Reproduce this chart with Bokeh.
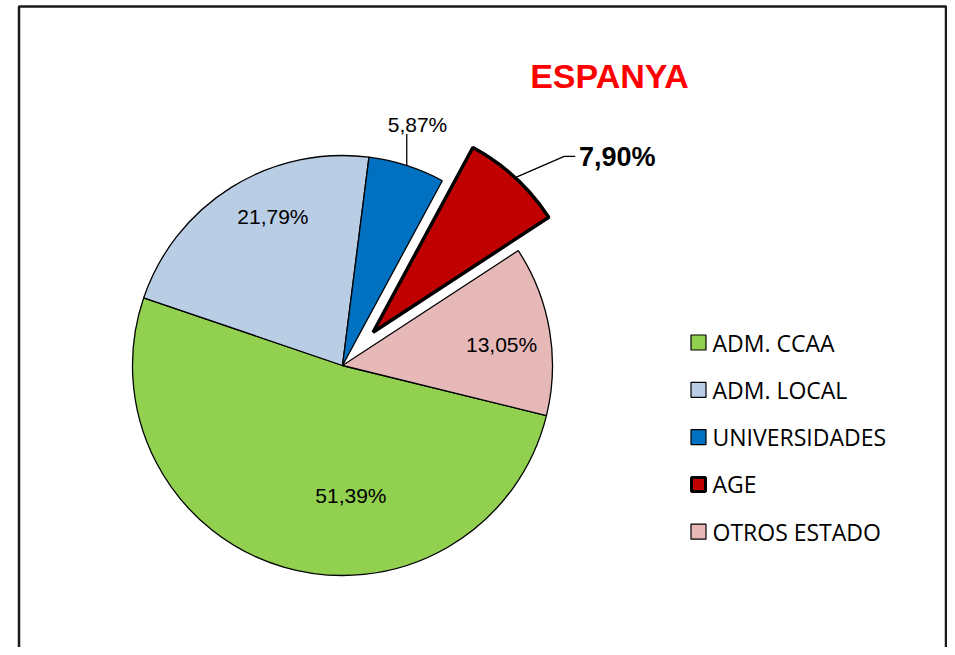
import math
from bokeh.plotting import figure
from bokeh.models import Range1d, ColumnDataSource
from bokeh.core.properties import value
from bokeh.embed import file_html
from bokeh.resources import INLINE

# ---- data ----
categories = ["ADM. CCAA", "ADM. LOCAL", "UNIVERSIDADES", "AGE", "OTROS ESTADO"]
shares = [51.39, 21.79, 5.87, 7.90, 13.05]
labels = ["51,39%", "21,79%", "5,87%", "7,90%", "13,05%"]
colors = ["#92D050", "#B9CDE5", "#0070C0", "#C00000", "#E6B9B8"]
title_text = "ESPANYA"

# ---- layout (image pixel coordinates -> data) ----
W, H = 947, 647
def Y(img_y):
    return H - img_y

cx, cy, R = 342, Y(365), 210
first_angle = math.radians(-13.8)      # where the first slice begins (clockwise)
explode = [0, 0, 0, 0.215, 0]
line_w = [1.3, 1.3, 1.3, 3.5, 1.3]
# label placement: (radius fraction, angle offset deg) relative to slice middle
label_pos = [(0.62, 20.0), (0.785, -7.0), (1.2, 0.5), (1.43, -11.8), (0.764, -2.3)]
label_size = ["21px", "21px", "21px", "27px", "21px"]
label_style = ["normal", "normal", "normal", "bold", "normal"]

total = sum(shares)
starts, ends, mids, xs, ys = [], [], [], [], []
cum = 0.0
for i, s in enumerate(shares):
    a0 = first_angle - 2 * math.pi * cum / total
    cum += s
    a1 = first_angle - 2 * math.pi * cum / total
    m = (a0 + a1) / 2
    starts.append(a0); ends.append(a1); mids.append(m)
    xs.append(cx + explode[i] * R * math.cos(m))
    ys.append(cy + explode[i] * R * math.sin(m))

p = figure(width=W, height=H, output_backend="svg", toolbar_location=None,
           x_range=Range1d(0, W), y_range=Range1d(0, H), min_border=0)
p.axis.visible = False
p.grid.visible = False
p.outline_line_color = None
p.background_fill_color = "white"
p.border_fill_color = "white"

# frame
p.line([18.5, 18.5, 945.5, 945.5], [-20, Y(6), Y(6), -20], line_color="#1a1a1a", line_width=2.5)

src = ColumnDataSource(dict(x=xs, y=ys, start=starts, end=ends, color=colors, lw=line_w))
p.wedge(x="x", y="y", radius=R, start_angle="start", end_angle="end", direction="clock",
        fill_color="color", line_color="black", line_width="lw", source=src)

# labels + leader lines
for i in range(len(shares)):
    rf, off = label_pos[i]
    ang = mids[i] + math.radians(off)
    bx, by = xs[i], ys[i]
    lx = bx + rf * R * math.cos(ang)
    ly = by + rf * R * math.sin(ang)
    if rf > 1.0:
        ex = bx + R * math.cos(mids[i])
        ey = by + R * math.sin(mids[i])
        if categories[i] == "AGE":
            p.line([ex, lx - 53, lx - 42], [ey, ly + 1, ly + 1], line_color="black", line_width=1.3)
        else:
            p.line([ex, ex], [ey, ly - 9], line_color="black", line_width=1.3)
    p.text(x=[lx], y=[ly], text=[labels[i]], text_align="center", text_baseline="middle",
           text_font=value("Liberation Sans"), text_font_size=label_size[i],
           text_font_style=label_style[i], text_color="black")

# title
p.text(x=[609], y=[Y(75)], text=[title_text], text_align="center", text_baseline="middle",
       text_font=value("Liberation Sans"), text_font_size="34px", text_font_style="bold",
       text_color="#FF0000")

# legend
leg_y = [Y(342 + 47.3 * i) for i in range(len(categories))]
leg_x = [698] * len(categories)
leg_size = [15, 15, 15, 14, 15]
leg_lw = [1.2, 1.2, 1.2, 3.0, 1.2]
p.scatter(x=leg_x, y=leg_y, marker="square", size=leg_size, fill_color=colors,
          line_color="black", line_width=leg_lw)
p.text(x=[712] * len(categories), y=leg_y, text=categories, text_align="left",
       text_baseline="middle", text_font=value("Open Sans"), text_font_size="23px",
       text_color="black")

open("out.html", "w").write(file_html(p, INLINE))
